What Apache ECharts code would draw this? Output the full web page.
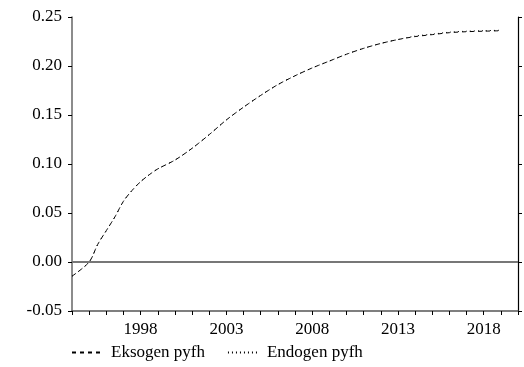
<!DOCTYPE html>
<html>
<head>
<meta charset="utf-8">
<script src="https://cdn.jsdelivr.net/npm/echarts@6/dist/echarts.min.js"></script>
<style>html,body{margin:0;padding:0;background:#fff}#c{width:524px;height:367px}</style>
</head>
<body>
<div id="c"></div>
<script>
// Data (years, values)
const years = [1994, 1995, 1995.5, 1996, 1996.5, 1997, 1997.5, 1998, 1998.5, 1999, 2000, 2001, 2002, 2003, 2004, 2005, 2006, 2007, 2008, 2009, 2010, 2011, 2012, 2013, 2014, 2015, 2016, 2017, 2018, 2019];
const eksogen = [-0.0145, 0.000, 0.018, 0.032, 0.046, 0.062, 0.073, 0.082, 0.089, 0.095, 0.104, 0.116, 0.130, 0.145, 0.158, 0.170, 0.181, 0.190, 0.198, 0.205, 0.212, 0.218, 0.223, 0.227, 0.230, 0.232, 0.234, 0.235, 0.2355, 0.236];
const endogen = [-0.0145, 0.000, 0.018, 0.032, 0.046, 0.062, 0.073, 0.082, 0.089, 0.095, 0.104, 0.116, 0.130, 0.145, 0.158, 0.170, 0.181, 0.190, 0.198, 0.205, 0.212, 0.218, 0.223, 0.227, 0.2305, 0.2325, 0.2345, 0.2355, 0.236, 0.2365];
const xTickLabels = [1998, 2003, 2008, 2013, 2018];
const yTicks = [-0.05, 0.00, 0.05, 0.10, 0.15, 0.20, 0.25];
const seriesNames = ['Eksogen pyfh', 'Endogen pyfh'];

const font = '"Liberation Serif", "Times New Roman", serif';
const chart = echarts.init(document.getElementById('c'), null, {renderer: 'canvas'});
const pairs = (ys) => years.map((y, i) => [y, ys[i]]);

chart.setOption({
  animation: false,
  backgroundColor: '#fff',
  grid: {left: 72, right: 6, top: 17, bottom: 56, containLabel: false},
  legend: {
    left: 66, top: 339,
    itemWidth: 30, itemHeight: 12, itemGap: 22,
    itemStyle: {opacity: 0, borderWidth: 0},
    textStyle: {fontFamily: font, fontSize: 17, color: '#000', padding: [0, 0, 0, 4]},
    data: seriesNames
  },
  xAxis: {
    type: 'value', min: 1994, max: 2020, interval: 1,
    axisLine: {show: true, onZero: false, lineStyle: {color: '#555', width: 1.5}},
    axisTick: {show: true, inside: false, length: 4, lineStyle: {color: '#000', width: 1}},
    axisLabel: {
      margin: 10, fontFamily: font, fontSize: 17, color: '#000',
      formatter: (v) => xTickLabels.indexOf(Math.round(v)) >= 0 ? String(Math.round(v)) : ''
    },
    splitLine: {show: false}
  },
  yAxis: [{
    type: 'value', min: -0.05, max: 0.25, interval: 0.05, position: 'left',
    axisLine: {show: true, onZero: false, lineStyle: {color: '#666', width: 1.5}},
    axisTick: {show: true, length: 4, lineStyle: {color: '#000', width: 1}},
    axisLabel: {margin: 10, fontFamily: font, fontSize: 17, color: '#000',
      formatter: (v) => v.toFixed(2)},
    splitLine: {show: false}
  }, {
    type: 'value', min: -0.05, max: 0.25, interval: 0.05, position: 'right',
    axisLine: {show: true, onZero: false, lineStyle: {color: '#000', width: 1.2}},
    axisTick: {show: true, length: 4, lineStyle: {color: '#000', width: 1}},
    axisLabel: {show: false},
    splitLine: {show: false}
  }],
  series: [{
    name: seriesNames[0], type: 'line', data: pairs(eksogen),
    showSymbol: false, symbol: 'none', smooth: 0.3,
    itemStyle: {color: '#000'},
    lineStyle: {color: '#000', width: 1, type: [4, 4]},
    markLine: {
      silent: true, symbol: 'none', label: {show: false},
      lineStyle: {color: '#777', width: 2, type: 'solid'},
      data: [{yAxis: 0}]
    },
    z: 3
  }, {
    name: seriesNames[1], type: 'line', data: pairs(endogen),
    showSymbol: false, symbol: 'none', smooth: 0.3,
    itemStyle: {color: '#000'},
    lineStyle: {color: '#000', width: 1, type: [1, 3]},
    z: 3
  }]
});
</script>
</body>
</html>
